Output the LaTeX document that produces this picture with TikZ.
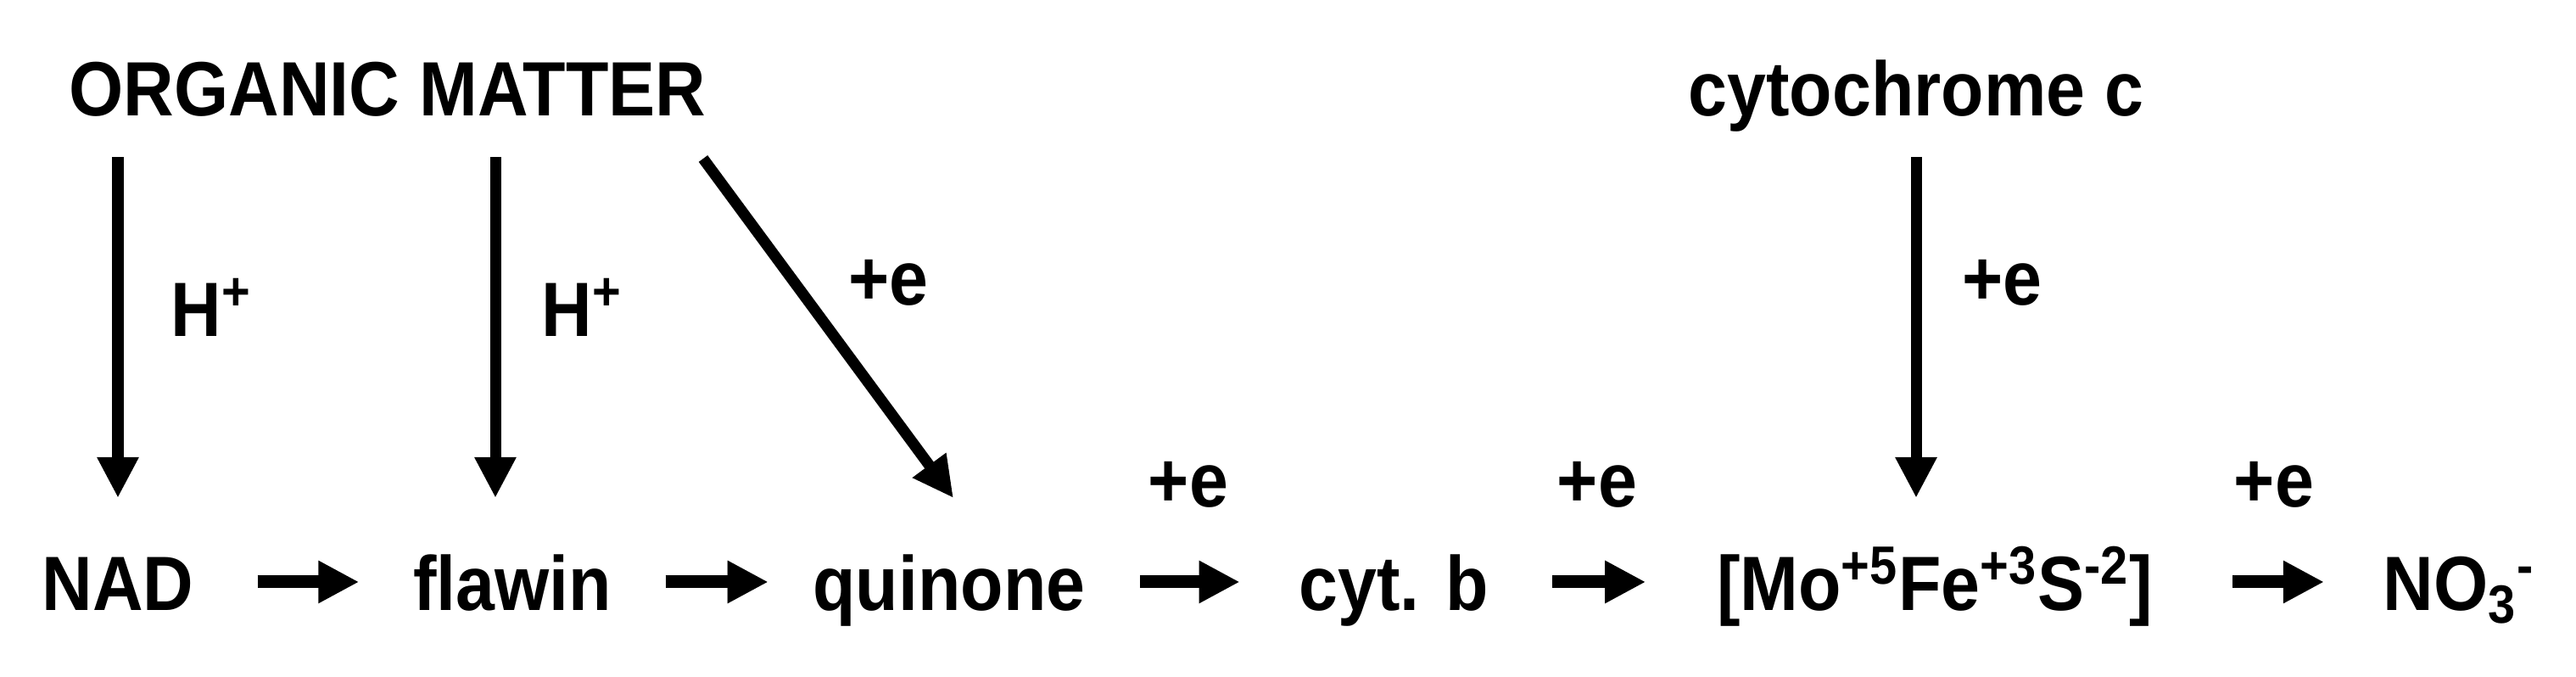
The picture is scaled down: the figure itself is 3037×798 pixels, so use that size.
\documentclass[tikz,border=0pt]{standalone}
\usepackage{fontspec}
\setmainfont{Liberation Sans}[FakeStretch=0.91]
\usetikzlibrary{arrows.meta}
\tikzset{
  arr/.style={line width=0.13cm,-{Triangle[width=0.46cm,length=0.48cm]}},
  down/.style={arr,shorten <=0.48cm,shorten >=1.33cm},
  fat/.style={line width=0.15cm,-{Triangle[width=0.47cm,length=0.48cm]}},
  lbl/.style={inner sep=0pt,anchor=base}
}
\begin{document}
\begin{tikzpicture}[x=0.01cm,y=0.01cm,font=\bfseries\fontsize{25.8}{30}\selectfont]
   \useasboundingbox (0,0) rectangle (3037,798);

   % sources
   \node[lbl] (OM) at (457,661) {ORGANIC MATTER};
   \node[lbl] (cytc) at (2259,661) {cytochrome c};

   % chain
   \node[lbl] (NAD) at (139,78) {NAD};
   \node[lbl] (flawin) at (604,78) {flawin};
   \node[lbl] (quinone) at (1119,78) {quinone};
   \node[lbl] (cytb) at (1643,78) {cyt. b};
   \node[lbl] (Mo) at (2281,78) {[Mo\textsuperscript{+5}Fe\textsuperscript{+3}S\textsuperscript{-2}]};
   \node[lbl] (NO) at (2899,78) {NO\textsubscript{3}\textsuperscript{-}};

   % down arrows
   \coordinate (flx) at (584,78);
   \coordinate (dstart) at (829,611);
   \coordinate (qtip) at (1124,211);
   \draw[down] (OM.base -| NAD.base) -- (NAD.base);
   \draw[down] (OM.base -| flx) -- (flx);
   \draw[arr] (dstart) -- (qtip);
   \draw[down] (cytc.base) -- (cytc.base |- Mo.base);

   \node[lbl,anchor=base west] (h1) at (201,401) {H\textsuperscript{+}};
   \node[lbl,anchor=base west] (h2) at (638,401) {H\textsuperscript{+}};
   \node[lbl,anchor=base west] (e1) at (1000,438) {+e};
   \node[lbl,anchor=base west] (e2) at (2313,438) {+e};

   % chain arrows
   \draw[fat,shorten <=0.745cm,shorten >=0.63cm] ([yshift=0.34cm]NAD.base east) -- ([yshift=0.34cm]flawin.base west);
   \draw[fat,shorten <=0.63cm,shorten >=0.52cm] ([yshift=0.34cm]flawin.base east) -- ([yshift=0.34cm]quinone.base west);
   \draw[fat,shorten <=0.64cm,shorten >=0.69cm] ([yshift=0.34cm]quinone.base east) -- ([yshift=0.34cm]cytb.base west);
   \draw[fat,shorten <=0.75cm,shorten >=0.83cm] ([yshift=0.34cm]cytb.base east) -- ([yshift=0.34cm]Mo.base west);
   \draw[fat,shorten <=0.93cm,shorten >=0.69cm] ([yshift=0.34cm]Mo.base east) -- ([yshift=0.34cm]NO.base west);

   \node[lbl] (e3) at (1401,200) {+e};
   \node[lbl] (e4) at (1883,200) {+e};
   \node[lbl] (e5) at (2681,200) {+e};
\end{tikzpicture}
\end{document}
